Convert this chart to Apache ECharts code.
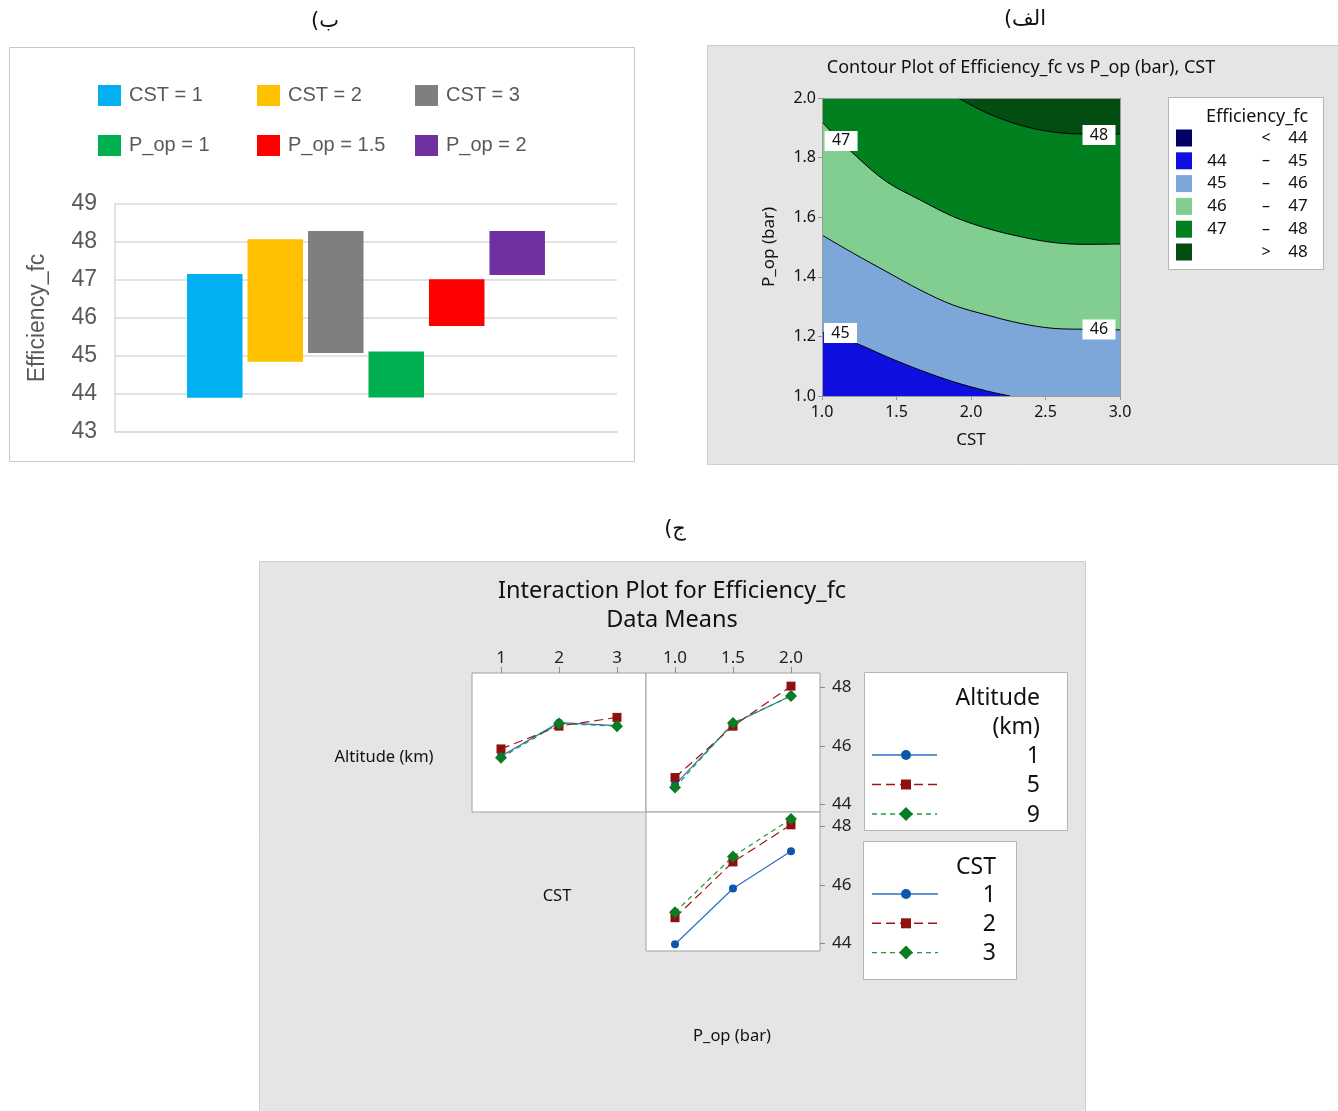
<!DOCTYPE html>
<html><head><meta charset="utf-8">
<script src="https://cdn.jsdelivr.net/npm/echarts@6/dist/echarts.min.js"></script>
<style>html,body{margin:0;padding:0;background:#fff}#c{width:1338px;height:1111px}</style>
</head><body><div id="c"></div>
<script>
// ---------- Panel ب : floating bars ----------
const barNames  = ['CST = 1','CST = 2','CST = 3','P_op = 1','P_op = 1.5','P_op = 2'];
const barLow    = [43.90, 44.85, 45.08, 43.91, 45.79, 47.13];
const barHigh   = [47.16, 48.07, 48.29, 45.12, 47.02, 48.29];
const barColors = ['#00B0F0','#FFC000','#7F7F7F','#00B050','#FF0000','#7030A0'];

// ---------- Panel الف : contour (boundaries read as [CST, P_op]) ----------
const c45 = [[1.0,1.215],[1.233,1.176],[1.434,1.132],[1.658,1.087],[1.881,1.048],[2.105,1.017],[2.262,1.0]];
const c46 = [[1.0,1.540],[1.210,1.479],[1.434,1.417],[1.658,1.356],[1.881,1.305],[2.105,1.272],[2.329,1.244],[2.552,1.227],[2.754,1.224],[3.0,1.222]];
const c47 = [[1.0,1.919],[1.233,1.803],[1.434,1.719],[1.658,1.658],[1.881,1.602],[2.105,1.563],[2.329,1.535],[2.552,1.515],[2.776,1.509],[3.0,1.510]];
const c48 = [[1.913,2.0],[2.107,1.950],[2.329,1.909],[2.550,1.886],[2.779,1.879],[3.0,1.879]];
const contourLabels = [
  {name:'47', value:[1.128,1.856]},
  {name:'48', value:[2.859,1.876]},
  {name:'45', value:[1.124,1.211]},
  {name:'46', value:[2.859,1.223]}
];
const levelColors = ['#000066','#0f0fe0','#7da7d9','#82ce91','#00801f','#044d12'];
const levelLow  = ['', '44','45','46','47',''];
const levelSym  = ['<','–','–','–','–','>'];
const levelHigh = ['44','45','46','47','48','48'];

// ---------- Panel ج : interaction means ----------
const cstLevels = ['1','2','3'];
const popLevels = ['1.0','1.5','2.0'];
const altNames  = ['1','5','9'];
const cstNames  = ['1','2','3'];
const altByCst = [[45.65,46.80,46.70],[45.90,46.68,46.98],[45.60,46.77,46.68]];
const altByPop = [[44.68,46.76,47.72],[44.92,46.68,48.05],[44.58,46.79,47.71]];
const cstByPop = [[43.97,45.88,47.16],[44.88,46.79,48.06],[45.07,46.98,48.26]];
const interTicks = [44,46,48];

const FONT_MT = '"Noto Sans", "Open Sans", sans-serif';
const FONT_XL = '"Liberation Sans", sans-serif';
const FONT_AR = '"DejaVu Sans", "Noto Sans", sans-serif';

const series = [];
// floating bars
barNames.forEach((n,i)=>{
  series.push({type:'bar', xAxisIndex:0, yAxisIndex:0, stack:'s'+i, data:[barLow[i]], silent:true,
    itemStyle:{color:'rgba(0,0,0,0)'}, barGap:'9%', barCategoryGap:'28.7%'});
  series.push({name:n, type:'bar', xAxisIndex:0, yAxisIndex:0, stack:'s'+i, data:[+(barHigh[i]-barLow[i]).toFixed(3)],
    itemStyle:{color:barColors[i]}, barGap:'9%', barCategoryGap:'28.7%'});
});
// contour fills
const cLine = (data, fill, origin, lw) => ({type:'line', xAxisIndex:1, yAxisIndex:1, data, symbol:'none', silent:true,
  smooth:0.35, lineStyle:{color:'#000', width:lw}, areaStyle:{color:fill, opacity:1, origin}, z:2});
series.push(cLine([[1,1],[3,1]], levelColors[2], 'end', 0));
series.push(cLine(c46, levelColors[3], 'end', 1));
series.push(cLine(c47, levelColors[4], 'end', 1));
series.push(cLine(c48, levelColors[5], 'end', 1));
series.push(cLine(c45, levelColors[1], 'start', 1));
series.push({type:'scatter', xAxisIndex:1, yAxisIndex:1, data:contourLabels, symbol:'rect', symbolSize:[33,20], silent:true,
  itemStyle:{color:'#fff', opacity:1}, z:4,
  label:{show:true, position:'inside', formatter:p=>p.name, color:'#111', fontSize:16, fontFamily:FONT_MT}});
// interaction
const iStyles = [
  {line:'#2d6fc0', mark:'#0b58a8', symbol:'circle',  size:8,  type:'solid'},
  {line:'#a31515', mark:'#8e1010', symbol:'rect',    size:9,  type:[9,5]},
  {line:'#1f9a3c', mark:'#0a7d22', symbol:'diamond', size:12, type:[5,4]}
];
function inter(data, ai){
  data.forEach((d,j)=>{
    const s = iStyles[j];
    series.push({type:'line', xAxisIndex:ai, yAxisIndex:ai, data:d, symbol:s.symbol, symbolSize:s.size, silent:true,
      lineStyle:{color:s.line, width:1.2, type:s.type}, itemStyle:{color:s.mark}, z:3});
  });
}
inter(altByCst, 2);
inter(altByPop, 3);
inter(cstByPop, 4);

// ---------- graphics (panels, texts, legends) ----------
const G = [];
const txt = (x,y,text,size,opt={}) => G.push({type:'text', x, y, z:opt.z||20,
  style:{text, fontSize:size, fontFamily:opt.font||FONT_MT, fill:opt.color||'#111', align:opt.align||'center', verticalAlign:'middle'}});
// panel backgrounds
G.push({type:'rect', z:-5, shape:{x:9.5,y:47.5,width:625,height:414}, style:{fill:'#fff', stroke:'#c8c8c8', lineWidth:1}});
G.push({type:'rect', z:-5, shape:{x:707.5,y:45.5,width:632,height:419}, style:{fill:'#e5e5e5', stroke:'#cfcfcf', lineWidth:1}});
G.push({type:'rect', z:-5, shape:{x:259.5,y:561.5,width:826,height:560}, style:{fill:'#e5e5e5', stroke:'#cfcfcf', lineWidth:1}});
// captions
txt(325,22,'ب)\u200F',21,{font:FONT_AR});
txt(1025,20,'الف)\u200F',21,{font:FONT_AR});
txt(675,530,'ج)\u200F',21,{font:FONT_AR});
// contour title + legend
txt(1021,68,'Contour Plot of Efficiency_fc vs P_op (bar), CST',18);
G.push({type:'rect', z:10, shape:{x:1168.5,y:97.5,width:155,height:172}, style:{fill:'#fff', stroke:'#b4b4b4', lineWidth:1}});
txt(1257,117,'Efficiency_fc',18);
levelColors.forEach((c,i)=>{
  const y = 138 + i*22.8;
  G.push({type:'rect', z:20, shape:{x:1176,y:y-8.5,width:16,height:17}, style:{fill:c}});
  if (levelLow[i]) txt(1217,y,levelLow[i],17);
  txt(1266,y,levelSym[i],16);
  txt(1298,y,levelHigh[i],17);
});
// interaction title & labels
txt(672,591,'Interaction Plot for Efficiency_fc',23.5);
txt(672,620,'Data Means',23.5);
txt(384,757,'Altitude (km)',16.5);
txt(557,896,'CST',16.5);
txt(732,1036,'P_op (bar)',16.5);
// interaction legends
function drawKey(cx, y, j, x1, x2){
  const s = iStyles[j];
  G.push({type:'line', z:20, shape:{x1,y1:y,x2,y2:y}, style:{stroke:s.line, lineWidth:1.4, lineDash:s.type==='solid'?null:s.type}});
  if (j===0) G.push({type:'circle', z:21, shape:{cx,cy:y,r:5}, style:{fill:s.mark}});
  if (j===1) G.push({type:'rect', z:21, shape:{x:cx-5,y:y-5,width:10,height:10}, style:{fill:s.mark}});
  if (j===2) G.push({type:'polygon', z:21, shape:{points:[[cx,y-7],[cx+7,y],[cx,y+7],[cx-7,y]]}, style:{fill:s.mark}});
}
G.push({type:'rect', z:10, shape:{x:864.5,y:672.5,width:203,height:158}, style:{fill:'#fff', stroke:'#b4b4b4', lineWidth:1}});
txt(1040,698,'Altitude',23,{align:'right'});
txt(1040,727,'(km)',23,{align:'right'});
altNames.forEach((n,j)=>{ const y = 755 + j*29.5; drawKey(906,y,j,872,937); txt(1040,y+1,n,23,{align:'right'}); });
G.push({type:'rect', z:10, shape:{x:863.5,y:841.5,width:153,height:138}, style:{fill:'#fff', stroke:'#b4b4b4', lineWidth:1}});
txt(996,867,'CST',23,{align:'right'});
cstNames.forEach((n,j)=>{ const y = 894 + j*29.3; drawKey(906,y,j,872,938); txt(996,y+1,n,23,{align:'right'}); });

// ---------- axes ----------
const interY = (gi, showLab) => ({gridIndex:gi, type:'value', min:43.74, max:48.5, position:'right',
  axisLine:{show:false}, splitLine:{show:false},
  axisTick:{show:showLab, customValues:interTicks, length:5, lineStyle:{color:'#8a8a8a'}},
  axisLabel:{show:showLab, customValues:interTicks, fontSize:17, color:'#222', fontFamily:FONT_MT, margin:12}});
const interX = (gi, data, showLab) => ({gridIndex:gi, type:'category', data, position:'top',
  axisLine:{show:false}, splitLine:{show:false},
  axisTick:{show:showLab, alignWithLabel:true, length:6, lineStyle:{color:'#8a8a8a'}},
  axisLabel:{show:showLab, fontSize:17, color:'#222', fontFamily:FONT_MT, margin:6}});

const option = {
  animation:false,
  backgroundColor:'#fff',
  graphic:{elements:G},
  legend: barNames.map((n,i)=>({data:[n], left:[98,257,415][i%3], top:[85,135][Math.floor(i/3)], padding:0,
    itemWidth:23, itemHeight:21, icon:'rect', itemGap:8, selectedMode:false,
    textStyle:{fontSize:20, color:'#595959', fontFamily:FONT_XL, padding:[0,0,0,3]}})),
  grid:[
    {left:115, top:204, width:502, height:228},
    {left:822, top:98, width:298, height:298},
    {left:472, top:673, width:174, height:139, show:true, backgroundColor:'#fff', borderColor:'#a0a0a0', borderWidth:1},
    {left:646, top:673, width:174, height:139, show:true, backgroundColor:'#fff', borderColor:'#a0a0a0', borderWidth:1},
    {left:646, top:812, width:174, height:139, show:true, backgroundColor:'#fff', borderColor:'#a0a0a0', borderWidth:1}
  ],
  xAxis:[
    {gridIndex:0, type:'category', data:[''], axisLine:{lineStyle:{color:'#d9d9d9', width:1.5}}, axisTick:{show:false}, axisLabel:{show:false}},
    {gridIndex:1, type:'value', min:1, max:3, interval:0.5, name:'CST', nameLocation:'middle', nameGap:36,
      nameTextStyle:{fontSize:17, color:'#111', fontFamily:FONT_MT}, z:5,
      axisLine:{show:true, lineStyle:{color:'#9a9a9a'}}, axisTick:{show:true, length:4, lineStyle:{color:'#9a9a9a'}},
      splitLine:{show:false}, axisLabel:{formatter:v=>v.toFixed(1), fontSize:16, color:'#111', fontFamily:FONT_MT, margin:8}},
    {gridIndex:1, type:'value', min:1, max:3, position:'top', z:5, axisLine:{show:true, onZero:false, lineStyle:{color:'#9a9a9a'}},
      axisTick:{show:false}, axisLabel:{show:false}, splitLine:{show:false}},
    interX(2, cstLevels, true),
    interX(3, popLevels, true),
    interX(4, popLevels, false)
  ],
  yAxis:[
    {gridIndex:0, type:'value', min:43, max:49, interval:1, name:'Efficiency_fc', nameLocation:'middle', nameGap:66, nameRotate:90,
      nameTextStyle:{fontSize:23, color:'#595959', fontFamily:FONT_XL},
      axisLine:{show:true, lineStyle:{color:'#d9d9d9', width:1.5}}, axisTick:{show:false},
      splitLine:{lineStyle:{color:'#d9d9d9', width:1.5}},
      axisLabel:{fontSize:23, color:'#595959', fontFamily:FONT_XL, margin:18}},
    {gridIndex:1, type:'value', min:1, max:2, interval:0.2, name:'P_op (bar)', nameLocation:'middle', nameGap:44, nameRotate:90,
      nameTextStyle:{fontSize:17, color:'#111', fontFamily:FONT_MT}, z:5,
      axisLine:{show:true, lineStyle:{color:'#9a9a9a'}}, axisTick:{show:true, length:4, lineStyle:{color:'#9a9a9a'}},
      splitLine:{show:false}, axisLabel:{formatter:v=>v.toFixed(1), fontSize:16, color:'#111', fontFamily:FONT_MT, margin:6}},
    {gridIndex:1, type:'value', min:1, max:2, position:'right', z:5, axisLine:{show:true, onZero:false, lineStyle:{color:'#9a9a9a'}},
      axisTick:{show:false}, axisLabel:{show:false}, splitLine:{show:false}},
    interY(2, false),
    interY(3, true),
    interY(4, true)
  ],
  series
};
// axis indices: interaction panels use x/y axes 3..5
series.forEach(s=>{
  if (s.xAxisIndex>=2){ s.xAxisIndex += 1; s.yAxisIndex += 1; }
});
const chart = echarts.init(document.getElementById('c'));
chart.setOption(option);
</script></body></html>
